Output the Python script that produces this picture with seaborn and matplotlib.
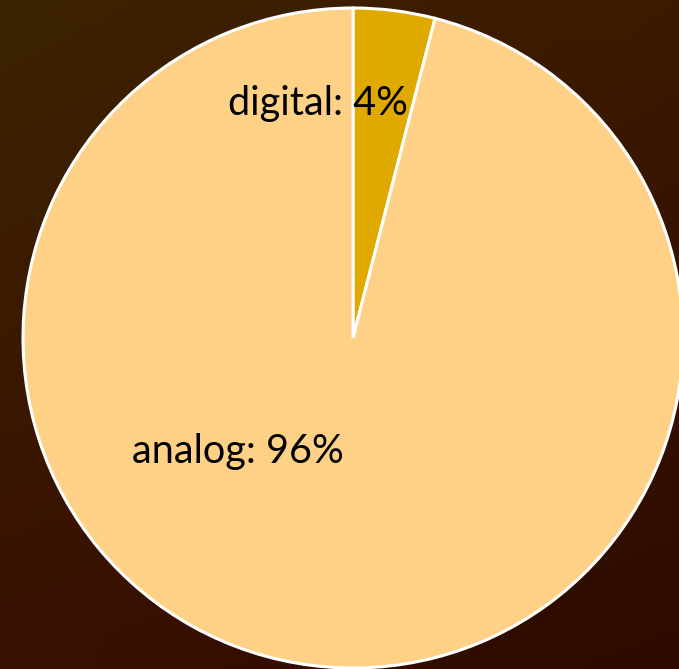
import numpy as np
import seaborn as sns
import matplotlib.pyplot as plt

# data
categories = ['digital', 'analog']
shares = [4, 96]
slice_colors = ['#E0A900', '#FFD186']

sns.set_theme(style="white")
plt.rcParams['font.family'] = ['Lato', 'DejaVu Sans']

fig = plt.figure(figsize=(6.79, 6.69), dpi=100)

# background gradient (dark brown, lighter top-left)
bg = fig.add_axes([0, 0, 1, 1])
corners = np.array([[[0x3c, 0x24, 0x00], [0x3d, 0x19, 0x00]],
                    [[0x3a, 0x10, 0x00], [0x2c, 0x0a, 0x00]]]) / 255.0
u = np.linspace(0, 1, 200)[None, :, None]
v = np.linspace(0, 1, 200)[:, None, None]
grad = (corners[0, 0] * (1 - u) * (1 - v) + corners[0, 1] * u * (1 - v)
        + corners[1, 0] * (1 - u) * v + corners[1, 1] * u * v)
bg.imshow(grad, aspect='auto', extent=[0, 1, 0, 1])
bg.axis('off')

# pie axes: center (353, 338) px, radius 330 px
ax = fig.add_axes([23 / 679, 1 / 669, 660 / 679, 660 / 669])
ax.pie(shares, colors=slice_colors, startangle=90, counterclock=False,
       wedgeprops=dict(edgecolor='white', linewidth=2.2))
ax.set_xlim(-1, 1)
ax.set_ylim(-1, 1)
ax.set_aspect('equal')
ax.axis('off')

label_pos = [(-0.106, 0.712), (-0.348, -0.345)]
for name, val, (x, y) in zip(categories, shares, label_pos):
    ax.text(x, y, f'{name}: {val}%', ha='center', va='center',
            fontsize=28.5, color='black')

fig.savefig('out.png', dpi=100)
